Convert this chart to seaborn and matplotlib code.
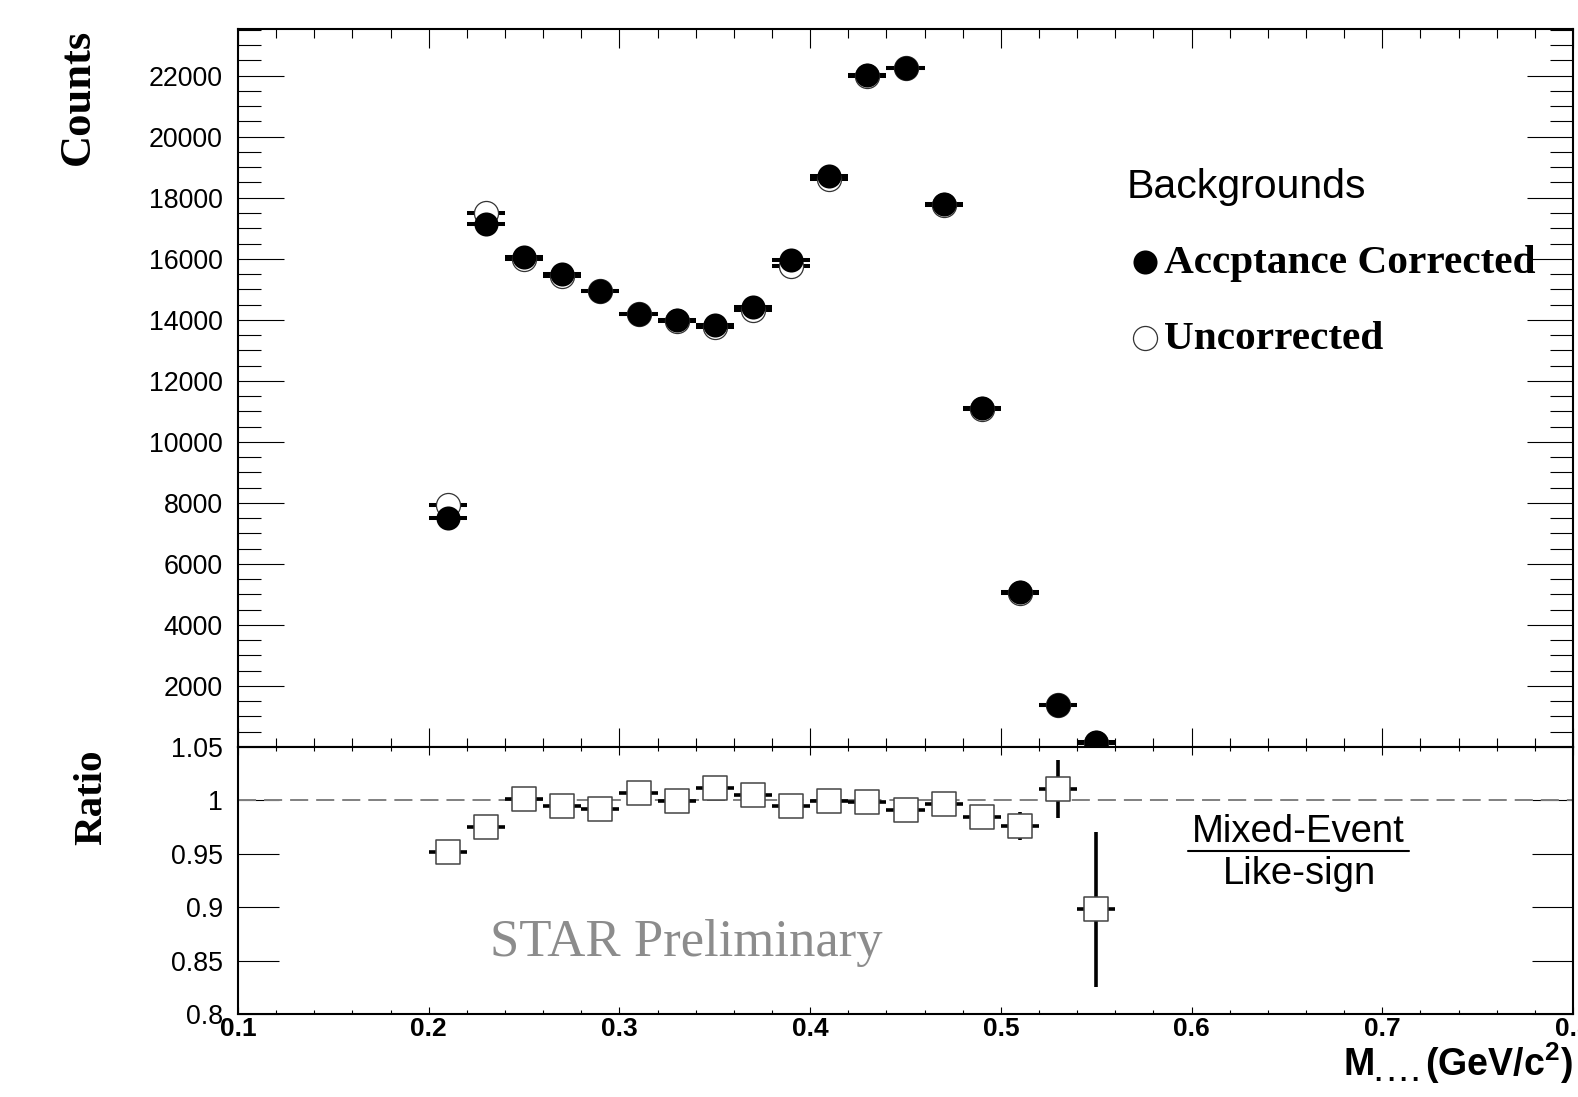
import numpy as np
import pandas as pd
import matplotlib
matplotlib.use("Agg")
import matplotlib.pyplot as plt
import seaborn as sns
from matplotlib.ticker import MultipleLocator, FixedLocator, NullLocator
from matplotlib.font_manager import FontProperties
from matplotlib.lines import Line2D

# ---------------- data ----------------
mass = [0.21, 0.23, 0.25, 0.27, 0.29, 0.31, 0.33, 0.35, 0.37, 0.39,
        0.41, 0.43, 0.45, 0.47, 0.49, 0.51, 0.53, 0.55]
corrected = [7510, 17140, 16050, 15510, 14960, 14200, 13990, 13830, 14410, 15970,
             18720, 22020, 22260, 17790, 11100, 5070, 1380, 150]
uncorrected = [7920, 17490, 16000, 15420, 14940, 14190, 13960, 13750, 14330, 15750,
               18620, 21990, 22240, 17770, 11080, 5060, 1370, 140]
ratio = [0.9516, 0.9753, 1.0013, 0.9950, 0.9922, 1.0069, 0.9997, 1.0116, 1.0050, 0.9950,
         0.9997, 0.9988, 0.9913, 0.9969, 0.9847, 0.9760, 1.0105, 0.8980]
ratio_err = [0.004, 0.004, 0.003, 0.003, 0.003, 0.003, 0.003, 0.003, 0.003, 0.003,
             0.003, 0.003, 0.003, 0.004, 0.006, 0.0130, 0.0272, 0.0723]
bin_half_width = 0.01

count_ticks = [2000, 4000, 6000, 8000, 10000, 12000, 14000, 16000, 18000, 20000, 22000]
count_labels = ["2000", "4000", "6000", "8000", "10000", "12000", "14000", "16000",
                "18000", "20000", "22000"]
ratio_ticks = [0.8, 0.85, 0.9, 0.95, 1.0, 1.05]
ratio_labels = ["0.8", "0.85", "0.9", "0.95", "1", "1.05"]
mass_ticks = [0.1, 0.2, 0.3, 0.4, 0.5, 0.6, 0.7, 0.8]
mass_labels = ["0.1", "0.2", "0.3", "0.4", "0.5", "0.6", "0.7", "0.8"]

df = pd.DataFrame({"mass": mass, "corrected": corrected,
                   "uncorrected": uncorrected, "ratio": ratio, "ratio_err": ratio_err})

# ---------------- style ----------------
sns.set_theme(style="ticks")
plt.rcParams["font.family"] = ["Liberation Sans", "DejaVu Sans"]
plt.rcParams["mathtext.fontset"] = "custom"
plt.rcParams["mathtext.rm"] = "Liberation Sans"
plt.rcParams["mathtext.bf"] = "Liberation Sans:bold"
plt.rcParams["axes.edgecolor"] = "black"
plt.rcParams["xtick.color"] = "black"
plt.rcParams["ytick.color"] = "black"
plt.rcParams["text.color"] = "black"
plt.rcParams["legend.labelcolor"] = "black"
plt.rcParams["axes.linewidth"] = 1.5

W, H = 1578, 1097
fig = plt.figure(figsize=(W / 100, H / 100), dpi=100)
fig.patch.set_facecolor("white")
L, R = 238 / W, 1573 / W
ax1 = fig.add_axes([L, 1 - 747 / H, R - L, (747 - 29) / H])
ax2 = fig.add_axes([L, 1 - 1014 / H, R - L, (1014 - 747) / H])

# ---------------- upper panel ----------------
ax1.errorbar(df["mass"], df["uncorrected"], xerr=bin_half_width, fmt="none",
             ecolor="black", elinewidth=2.9, capsize=0, zorder=2)
ax1.errorbar(df["mass"], df["corrected"], xerr=bin_half_width, fmt="none",
             ecolor="black", elinewidth=2.9, capsize=0, zorder=2)
sns.scatterplot(data=df, x="mass", y="uncorrected", ax=ax1, marker="o", s=300,
                color="white", edgecolor="#333333", linewidth=0.9, zorder=3,
                label="Uncorrected")
sns.scatterplot(data=df, x="mass", y="corrected", ax=ax1, marker="o", s=300,
                color="black", edgecolor="black", linewidth=0, zorder=4,
                label="Accptance Corrected")

ax1.set_xlim(0.1, 0.8)
ax1.set_ylim(0, 23530)
ax1.set_xlabel("")
ax1.set_ylabel("")
ax1.xaxis.set_major_locator(FixedLocator(mass_ticks))
ax1.xaxis.set_minor_locator(MultipleLocator(0.02))
ax1.yaxis.set_major_locator(FixedLocator(count_ticks))
ax1.set_yticklabels(count_labels)
ax1.yaxis.set_minor_locator(MultipleLocator(500))
ax1.tick_params(which="both", direction="in", top=True, right=True, width=0.8)
ax1.tick_params(axis="x", which="major", length=13.7, labelbottom=False)
ax1.tick_params(axis="x", which="minor", length=6.8)
ax1.tick_params(axis="y", which="major", length=33, labelsize=19.3, pad=10.8)
ax1.tick_params(axis="y", which="minor", length=16.5)
for sp in ax1.spines.values():
    sp.set_visible(True)
    sp.set_linewidth(1.5)

handles, labels = ax1.get_legend_handles_labels()
hmap = dict(zip(labels, handles))
leg = ax1.legend(handles=[hmap["Accptance Corrected"], hmap["Uncorrected"]],
                 labels=["Accptance Corrected", "Uncorrected"],
                 title="Backgrounds", loc="upper left",
                 bbox_to_anchor=(1127 / W, 1 - 168 / H), bbox_transform=fig.transFigure,
                 frameon=False,
                 prop=FontProperties(family="Liberation Serif", weight="bold", size=29.7),
                 title_fontproperties=FontProperties(family="Liberation Sans", size=29.5),
                 alignment="left", borderpad=0, borderaxespad=0,
                 handlelength=0.85, handletextpad=0.05, labelspacing=0.92,
                 markerscale=1.0)
leg.get_title().set_color("black")

# ---------------- lower panel ----------------
ax2.axhline(1.0, color="#808080", lw=1.4, ls=(0, (9.3, 4.1)), zorder=1)
ax2.errorbar(df["mass"], df["ratio"], xerr=bin_half_width, yerr=df["ratio_err"],
             fmt="none", ecolor="black", elinewidth=2.6, capsize=0, zorder=2)
sns.scatterplot(data=df, x="mass", y="ratio", ax=ax2, marker="s", s=290,
                color="white", edgecolor="#444444", linewidth=1.1, zorder=3)
ax2.set_xlim(0.1, 0.8)
ax2.set_ylim(0.8, 1.05)
ax2.set_xlabel("")
ax2.set_ylabel("")
ax2.xaxis.set_major_locator(FixedLocator(mass_ticks))
ax2.set_xticklabels(mass_labels, fontweight="bold")
ax2.xaxis.set_minor_locator(MultipleLocator(0.02))
ax2.yaxis.set_major_locator(FixedLocator(ratio_ticks))
ax2.set_yticklabels(ratio_labels)
ax2.yaxis.set_minor_locator(NullLocator())
ax2.tick_params(which="both", direction="in", top=True, right=True, width=0.8)
ax2.tick_params(axis="x", which="major", length=5.4, labelsize=19, pad=2)
ax2.tick_params(axis="x", which="minor", length=2.7)
ax2.tick_params(axis="y", which="major", length=29.5, labelsize=19.3, pad=10.8)
for sp in ax2.spines.values():
    sp.set_visible(True)
    sp.set_linewidth(1.5)

# ---------------- texts ----------------
fig.text(77.5 / W, 1 - 97 / H, "Counts", rotation=90, family="Liberation Serif",
         weight="bold", fontsize=32, ha="center", va="center")
fig.text(92 / W, 1 - 797 / H, "Ratio", rotation=90, family="Liberation Serif",
         weight="bold", fontsize=29.5, ha="center", va="center")
fig.text(1573 / W, 1 - 1076 / H, r"$\mathbf{M_{....}(GeV/c^{2})}$",
         ha="right", va="baseline", fontsize=27)
fig.text(1298 / W, 1 - 832 / H, "Mixed-Event", ha="center", va="center", fontsize=27.5)
fig.text(1300 / W, 1 - 874 / H, "Like-sign", ha="center", va="center", fontsize=27.5)
fig.add_artist(Line2D([1188 / W, 1409 / W], [1 - 851 / H, 1 - 851 / H],
                      color="black", lw=1.5, transform=fig.transFigure))
fig.text(490 / W, 1 - 943 / H, "STAR Preliminary", family="Liberation Serif",
         fontsize=38, color="#8c8c8c", ha="left", va="center")

fig.savefig("out.png", dpi=100, facecolor="white")
